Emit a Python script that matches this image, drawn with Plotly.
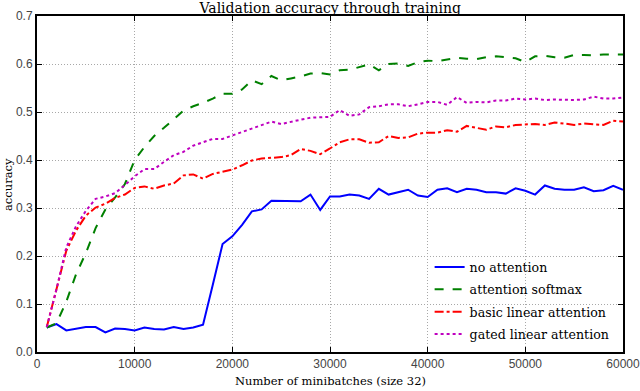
import plotly.graph_objects as go

# minibatch steps (x axis)
minibatches = [1000, 2000, 3000, 4000, 5000, 6000, 7000, 8000, 9000, 10000,
               11000, 12000, 13000, 14000, 15000, 16000, 17000, 18000, 19000, 20000,
               21000, 22000, 23000, 24000, 25000, 26000, 27000, 28000, 29000, 30000,
               31000, 32000, 33000, 34000, 35000, 36000, 37000, 38000, 39000, 40000,
               41000, 42000, 43000, 44000, 45000, 46000, 47000, 48000, 49000, 50000,
               51000, 52000, 53000, 54000, 55000, 56000, 57000, 58000, 59000, 60000]

no_attention = [0.051, 0.058, 0.045, 0.049, 0.052, 0.052, 0.041, 0.049, 0.048, 0.045,
                0.051, 0.048, 0.047, 0.052, 0.048, 0.051, 0.057, 0.140, 0.225, 0.241,
                0.265, 0.293, 0.297, 0.315, 0.315, 0.314, 0.314, 0.328, 0.296, 0.324,
                0.324, 0.328, 0.326, 0.319, 0.340, 0.328, 0.333, 0.338, 0.326, 0.323,
                0.338, 0.341, 0.333, 0.340, 0.338, 0.333, 0.333, 0.330, 0.341, 0.336,
                0.328, 0.347, 0.340, 0.338, 0.338, 0.343, 0.335, 0.337, 0.346, 0.338]

attention_softmax = [0.051, 0.060, 0.105, 0.162, 0.206, 0.258, 0.297, 0.322, 0.350, 0.400,
                     0.427, 0.450, 0.467, 0.486, 0.503, 0.512, 0.519, 0.528, 0.538, 0.538,
                     0.547, 0.566, 0.558, 0.575, 0.566, 0.570, 0.574, 0.580, 0.581, 0.578,
                     0.587, 0.588, 0.594, 0.599, 0.587, 0.600, 0.601, 0.596, 0.604, 0.607,
                     0.606, 0.610, 0.613, 0.611, 0.610, 0.614, 0.616, 0.614, 0.612, 0.604,
                     0.616, 0.617, 0.614, 0.613, 0.619, 0.619, 0.618, 0.620, 0.620, 0.620]

basic_linear = [0.052, 0.131, 0.211, 0.253, 0.284, 0.301, 0.309, 0.321, 0.328, 0.342,
                0.345, 0.340, 0.347, 0.351, 0.368, 0.370, 0.361, 0.371, 0.375, 0.380,
                0.389, 0.399, 0.403, 0.405, 0.406, 0.410, 0.423, 0.419, 0.412, 0.424,
                0.437, 0.443, 0.443, 0.436, 0.437, 0.450, 0.446, 0.447, 0.455, 0.457,
                0.457, 0.462, 0.459, 0.471, 0.467, 0.463, 0.470, 0.468, 0.473, 0.474,
                0.475, 0.473, 0.478, 0.476, 0.473, 0.476, 0.475, 0.473, 0.482, 0.480]

gated_linear = [0.052, 0.131, 0.218, 0.262, 0.294, 0.319, 0.324, 0.331, 0.348, 0.366,
                0.381, 0.381, 0.396, 0.410, 0.417, 0.430, 0.437, 0.444, 0.444, 0.451,
                0.458, 0.465, 0.472, 0.480, 0.475, 0.480, 0.484, 0.488, 0.489, 0.490,
                0.504, 0.492, 0.495, 0.510, 0.512, 0.516, 0.516, 0.512, 0.516, 0.521,
                0.521, 0.515, 0.531, 0.519, 0.521, 0.520, 0.524, 0.524, 0.528, 0.526,
                0.528, 0.525, 0.526, 0.525, 0.525, 0.526, 0.532, 0.528, 0.528, 0.530]

series = [
    ("no attention", no_attention, "#0000ff", "solid"),
    ("attention softmax", attention_softmax, "#008000", "dash"),
    ("basic linear attention", basic_linear, "#ff0000", "dashdot"),
    ("gated linear attention", gated_linear, "#bf00bf", "dot"),
]

fig = go.Figure()
for name, vals, color, dash in series:
    # one legend group per trace so tracegroupgap spaces the rows
    fig.add_trace(go.Scatter(x=minibatches, y=vals, mode="lines", name=name, legendgroup=name,
                             line=dict(color=color, width=2, dash=dash)))

serif = "DejaVu Serif"
axis_style = dict(
    showline=True, linecolor="black", linewidth=2, mirror="allticks",
    ticks="inside", ticklen=5, tickcolor="black", tickwidth=1,
    showgrid=True, gridcolor="#a8a8a8", griddash="1px,2px", gridwidth=1,
    zeroline=False, automargin=False, ticklabeloverflow="allow",
    tickfont=dict(family="Liberation Sans", size=12, color="#444"),
)

fig.update_layout(
    width=640, height=391,
    margin=dict(l=37, r=17, t=16, b=39),
    plot_bgcolor="white", paper_bgcolor="white",
    title=dict(text="Validation accuracy through training", x=0.516, xanchor="center",
               y=0.979, yanchor="middle", yref="container",
               font=dict(family=serif, size=14, color="black")),
    legend=dict(x=0.67, y=0.297, xanchor="left", yanchor="top",
                bgcolor="rgba(0,0,0,0)", font=dict(family=serif, size=12.6, color="black"),
                tracegroupgap=3),
    showlegend=True,
)
fig.update_xaxes(range=[0, 60000], tickvals=[0, 10000, 20000, 30000, 40000, 50000, 60000],
                 tickformat="d", **axis_style)
fig.update_yaxes(range=[0, 0.7], tickvals=[0, 0.1, 0.2, 0.3, 0.4, 0.5, 0.6, 0.7],
                 tickformat=".1f", **axis_style)

# axis titles placed by hand, as in the original layout
fig.add_annotation(text="Number of minibatches (size 32)", xref="paper", yref="paper",
                   x=0.5, y=-0.0863, xanchor="center", yanchor="middle", showarrow=False,
                   font=dict(family=serif, size=11.5, color="black"))
fig.add_annotation(text="accuracy", xref="paper", yref="paper", textangle=-90,
                   x=-0.0495, y=0.5, xanchor="center", yanchor="middle", showarrow=False,
                   font=dict(family=serif, size=11.5, color="black"))

fig.write_html("out.html", config={"displayModeBar": False},
               post_script="document.body.style.margin='0';")
